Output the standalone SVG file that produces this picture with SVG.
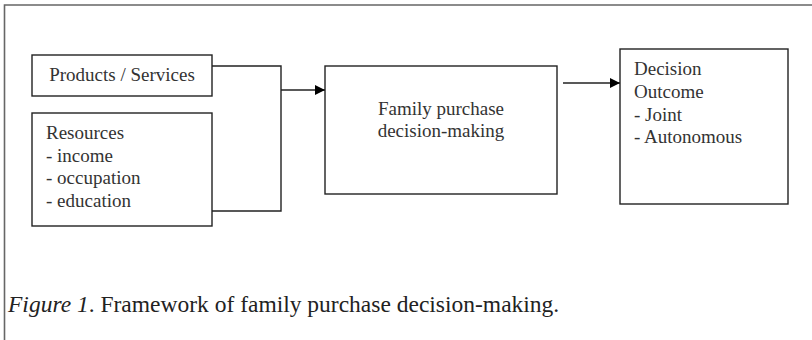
<svg xmlns="http://www.w3.org/2000/svg" width="812" height="340" viewBox="0 0 812 340">
<defs>
<style>
.box{fill:#fff;stroke:#222;stroke-width:1.4}
.t{font-family:"Liberation Serif","Times New Roman",serif;font-size:19px;fill:#333}
.c{fill:none;stroke:#222;stroke-width:1.4}
.frame{fill:none;stroke:#666;stroke-width:1.6}
.cap{font-family:"Liberation Serif","Times New Roman",serif;font-size:23.5px;fill:#222}
</style>
<marker id="ah" viewBox="0 0 10 10" refX="10" refY="5" markerWidth="10" markerHeight="10" markerUnits="userSpaceOnUse" orient="auto">
<path d="M0,0 L10,5 L0,10 Z" fill="#000"/>
</marker>
</defs>
<rect width="812" height="340" fill="#fff"/>
<path class="frame" d="M812,5 H4.5 V340"/>
<g id="products">
<rect class="box" x="32" y="55" width="180" height="41"/>
<text class="t" x="122" y="81" text-anchor="middle">Products / Services</text>
</g>
<g id="resources">
<rect class="box" x="32" y="113" width="180" height="113"/>
<text class="t" x="46" y="139">Resources</text>
<text class="t" x="46" y="162">- income</text>
<text class="t" x="46" y="184">- occupation</text>
<text class="t" x="46" y="207">- education</text>
</g>
<g id="family">
<rect class="box" x="325" y="66" width="232" height="128"/>
<text class="t" x="441" y="115" text-anchor="middle">Family purchase</text>
<text class="t" x="441" y="137" text-anchor="middle">decision-making</text>
</g>
<g id="outcome">
<rect class="box" x="620" y="49" width="168" height="155"/>
<text class="t" x="634" y="75">Decision</text>
<text class="t" x="634" y="98">Outcome</text>
<text class="t" x="634" y="121">- Joint</text>
<text class="t" x="634" y="143">- Autonomous</text>
</g>
<g id="connectors">
<path class="c" d="M212,66 H281 V211 H212"/>
<path class="c" d="M281,90 H325" marker-end="url(#ah)"/>
<path class="c" d="M563,83 H620" marker-end="url(#ah)"/>
</g>
<text class="cap" x="8" y="312"><tspan font-style="italic">Figure 1</tspan>. Framework of family purchase decision-making.</text>
</svg>
